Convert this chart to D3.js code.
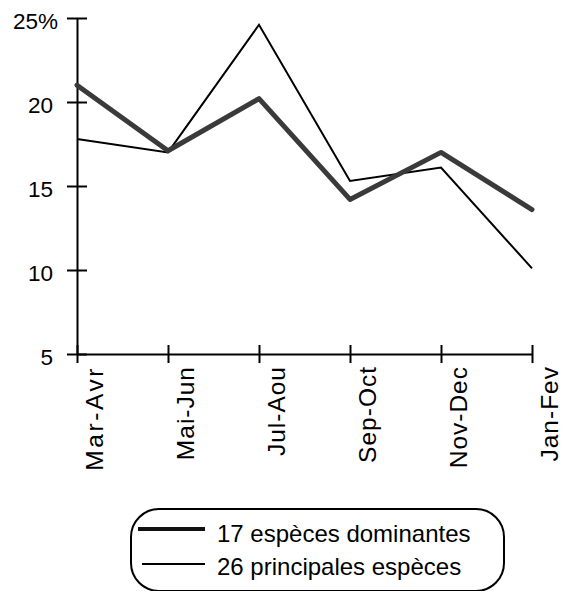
<!DOCTYPE html>
<html>
<head>
<meta charset="utf-8">
<script src="https://cdn.jsdelivr.net/npm/d3@7"></script>
<style>
  html, body { margin: 0; padding: 0; background: #fff; }
  svg { display: block; font-family: "Liberation Sans", Arial, Helvetica, sans-serif; }
</style>
</head>
<body>
<svg id="chart" width="561" height="591"></svg>
<script>
// ---- Data ----
const categories = ["Mar-Avr", "Mai-Jun", "Jul-Aou", "Sep-Oct", "Nov-Dec", "Jan-Fev"];
const dominantes17 = [21.0, 17.1, 20.2, 14.2, 17.0, 13.6];
const principales26 = [17.8, 17.0, 24.6, 15.3, 16.1, 10.1];
const yTickValues = [5, 10, 15, 20, 25];
const yTickLabels = ["5", "10", "15", "20", "25%"];
const seriesNames = ["17 espèces dominantes", "26 principales espèces"];

// ---- Layout ----
const svg = d3.select("#chart");
const x = d3.scalePoint().domain(categories).range([77, 532]);
const y = d3.scaleLinear().domain([5, 25]).range([354, 18]);

// Y axis
const yAxis = svg.append("g")
  .attr("transform", `translate(${x(categories[0])},0)`)
  .call(d3.axisLeft(y).tickValues(yTickValues)
    .tickFormat((d, i) => yTickLabels[i]).tickSizeOuter(0));
yAxis.select(".domain").attr("stroke", "#000").attr("stroke-width", 2);
yAxis.selectAll(".tick line").attr("x1", -10).attr("x2", 10)
  .attr("stroke", "#000").attr("stroke-width", 2);
yAxis.selectAll(".tick text")
  .attr("x", d => d === 25 ? -19 : -24)
  .attr("dy", "0.45em")
  .attr("font-size", 22.5)
  .attr("font-family", "Liberation Sans, Arial, sans-serif")
  .attr("fill", "#000");

// X axis
const xAxis = svg.append("g")
  .attr("transform", `translate(0,${y(5)})`)
  .call(d3.axisBottom(x).tickSizeOuter(0));
xAxis.select(".domain").attr("stroke", "#000").attr("stroke-width", 2);
xAxis.selectAll(".tick line").attr("y1", -9).attr("y2", 9)
  .attr("stroke", "#000").attr("stroke-width", 2);
xAxis.selectAll(".tick text")
  .attr("transform", "rotate(-90)")
  .attr("text-anchor", "end")
  .attr("x", -12)
  .attr("y", 25)
  .attr("dy", 0)
  .attr("font-size", 24.5)
  .attr("letter-spacing", d => d === "Mar-Avr" ? 2.6 : 1)
  .attr("font-family", "Liberation Sans, Arial, sans-serif")
  .attr("fill", "#000");

// Lines
const line = d3.line()
  .x((d, i) => x(categories[i]))
  .y(d => y(d));

svg.append("path")
  .datum(principales26)
  .attr("fill", "none")
  .attr("stroke", "#000")
  .attr("stroke-width", 2)
  .attr("stroke-linejoin", "miter")
  .attr("d", line);

svg.append("path")
  .datum(dominantes17)
  .attr("fill", "none")
  .attr("stroke", "#3a3a3a")
  .attr("stroke-width", 5)
  .attr("stroke-linejoin", "round")
  .attr("stroke-linecap", "round")
  .attr("d", line);

// Legend
const legend = svg.append("g");
legend.append("rect")
  .attr("x", 131).attr("y", 509)
  .attr("width", 373).attr("height", 82)
  .attr("rx", 28).attr("ry", 28)
  .attr("fill", "none")
  .attr("stroke", "#000")
  .attr("stroke-width", 2);

const legendItems = [
  { name: seriesNames[0], w: 4, color: "#111", x1: 138, ly: 529, ty: 542 },
  { name: seriesNames[1], w: 2, color: "#000", x1: 142, ly: 564, ty: 575 }
];
legendItems.forEach(it => {
  legend.append("line")
    .attr("x1", it.x1).attr("x2", 205)
    .attr("y1", it.ly).attr("y2", it.ly)
    .attr("stroke", it.color).attr("stroke-width", it.w);
  legend.append("text")
    .attr("x", 217).attr("y", it.ty)
    .attr("font-size", 24)
    .attr("fill", "#000")
    .text(it.name);
});
</script>
</body>
</html>
